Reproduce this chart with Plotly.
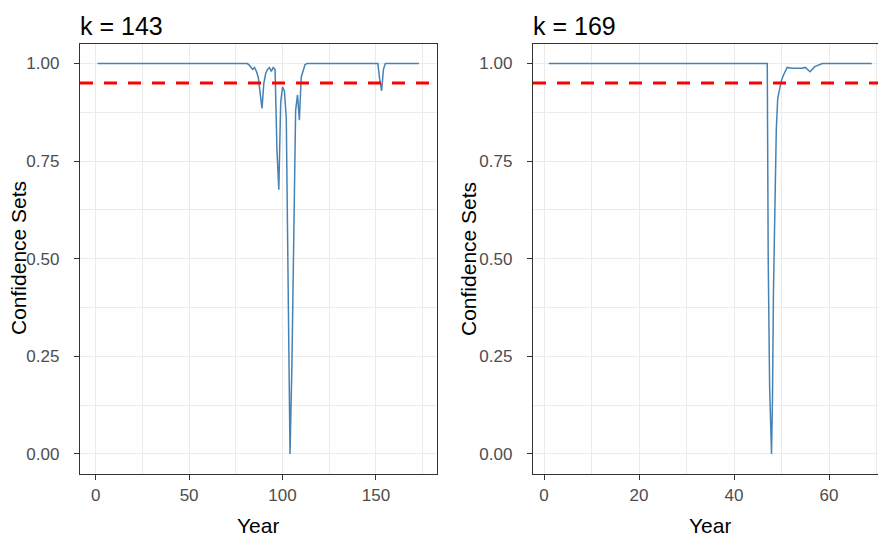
import plotly.graph_objects as go

# ---------------- data ----------------
# Panel 1: k = 143
year_k143 = [1, 81, 82, 83, 84, 85, 86, 87, 88, 89, 90, 91, 92, 93, 94, 95, 96, 97, 98, 99,
             100, 101, 102, 103, 104, 105, 106, 107, 108, 109, 110, 111, 112, 113,
             151, 152, 153, 154, 155, 173]
conf_k143 = [1.0, 1.0, 0.997, 0.99, 0.985, 0.99, 0.98, 0.965, 0.93, 0.885, 0.95, 0.975, 0.985, 0.99,
             0.98, 0.99, 0.985, 0.78, 0.677, 0.90, 0.94, 0.93, 0.86, 0.40, 0.0, 0.225, 0.55,
             0.88, 0.92, 0.855, 0.965, 0.985, 0.997, 1.0,
             1.0, 0.96, 0.93, 0.985, 1.0, 1.0]

# Panel 2: k = 169
year_k169 = [1, 47.0, 47.2, 47.5, 47.9, 48.1, 48.3, 48.6, 48.9, 49.2, 49.5, 49.9, 50.4, 51.2,
             52.2, 54.3, 55.0, 56.0, 57.0, 58.0, 58.6, 69]
conf_k169 = [1.0, 1.0, 0.50, 0.17, 0.0, 0.14, 0.41, 0.68, 0.83, 0.91, 0.93, 0.953, 0.97, 0.99,
             0.988, 0.988, 0.99, 0.979, 0.992, 0.998, 1.0, 1.0]

threshold = 0.95
panel_titles = ["k = 143", "k = 169"]
x_label = "Year"
y_label = "Confidence Sets"
y_ticks = [0.0, 0.25, 0.5, 0.75, 1.0]
x_ticks_k143 = [0, 50, 100, 150]
x_ticks_k169 = [0, 20, 40, 60]

# ---------------- style ----------------
OFF = 8  # page body margin offset
W, H = 886 - OFF, 540 - OFF
FONT = "Liberation Sans, Arial, sans-serif"
LINE_COL = "#4682B4"
BORDER = "#333333"
GRID = "#EBEBEB"
TICK_FONT = dict(family=FONT, size=17, color="#4D4D4D")

def px_x(p):
    return (p - OFF) / W

def px_y(p):
    return 1 - (p - OFF) / H

fig = go.Figure()
fig.add_trace(go.Scatter(x=year_k143, y=conf_k143, mode="lines",
                         line=dict(color=LINE_COL, width=1.5), xaxis="x", yaxis="y",
                         showlegend=False))
fig.add_trace(go.Scatter(x=year_k169, y=conf_k169, mode="lines",
                         line=dict(color=LINE_COL, width=1.5), xaxis="x2", yaxis="y2",
                         showlegend=False))

ydom = [px_y(473.5), px_y(44)]

def xaxis(domain, rng, ticks, minor_dt, anchor):
    return dict(domain=domain, range=rng, tickmode="array", tickvals=ticks,
                ticktext=[str(t) for t in ticks],
                showgrid=True, gridcolor=GRID, gridwidth=1.3, zeroline=False,
                minor=dict(dtick=minor_dt, tick0=0, showgrid=True, gridcolor=GRID,
                           gridwidth=0.7, ticks=""),
                showline=True, linecolor=BORDER, linewidth=1.3, mirror=True,
                ticks="outside", ticklen=5, tickwidth=1.3, tickcolor=BORDER,
                tickfont=TICK_FONT, ticklabelstandoff=1,
                anchor=anchor, fixedrange=True)

def yaxis(anchor, mirror):
    return dict(domain=ydom, range=[-0.05, 1.05], tickmode="array", tickvals=y_ticks,
                ticktext=[f"{v:.2f}" for v in y_ticks],
                showgrid=True, gridcolor=GRID, gridwidth=1.3, zeroline=False,
                minor=dict(dtick=0.125, tick0=0, showgrid=True, gridcolor=GRID,
                           gridwidth=0.7, ticks=""),
                showline=True, linecolor=BORDER, linewidth=1.3, mirror=mirror,
                ticks="outside", ticklen=5, tickwidth=1.3, tickcolor=BORDER,
                tickfont=TICK_FONT, ticklabelstandoff=11,
                anchor=anchor, fixedrange=True)

fig.update_layout(
    width=W, height=H,
    margin=dict(l=0, r=0, t=0, b=0),
    paper_bgcolor="white", plot_bgcolor="white",
    xaxis=xaxis([px_x(80), px_x(436.7)], [-8.4, 182.5], x_ticks_k143, 25, "y"),
    yaxis=yaxis("x", True),
    xaxis2=xaxis([px_x(533), 1.0], [-2.32, 72.0], x_ticks_k169, 10, "y2"),
    yaxis2=yaxis("x2", False),
    showlegend=False,
)

fig.add_shape(type="line", xref="x domain", yref="y", x0=0, x1=1, y0=threshold, y1=threshold,
              line=dict(color="#FF0000", width=3, dash="13px,11px"), layer="above")
fig.add_shape(type="line", xref="x2 domain", yref="y2", x0=0, x1=1, y0=threshold, y1=threshold,
              line=dict(color="#FF0000", width=3, dash="13px,11px"), layer="above")

ann = []
for title, left in zip(panel_titles, [80, 533]):
    ann.append(dict(text=title, x=px_x(left - 2), y=px_y(8), xref="paper", yref="paper",
                    xanchor="left", yanchor="top", showarrow=False, height=31,
                    font=dict(family=FONT, size=25, color="black")))
for cx in [258, 710]:
    ann.append(dict(text=x_label, x=px_x(cx), y=px_y(525), xref="paper", yref="paper",
                    xanchor="center", yanchor="middle", showarrow=False, height=22,
                    font=dict(family=FONT, size=21, color="black")))
for cx in [17.5, 467.5]:
    ann.append(dict(text=y_label, x=px_x(cx), y=px_y(258.5), xref="paper", yref="paper",
                    xanchor="center", yanchor="middle", showarrow=False, textangle=-90,
                    height=20,
                    font=dict(family=FONT, size=21, color="black")))
fig.update_layout(annotations=ann)

fig.write_html("out.html")
